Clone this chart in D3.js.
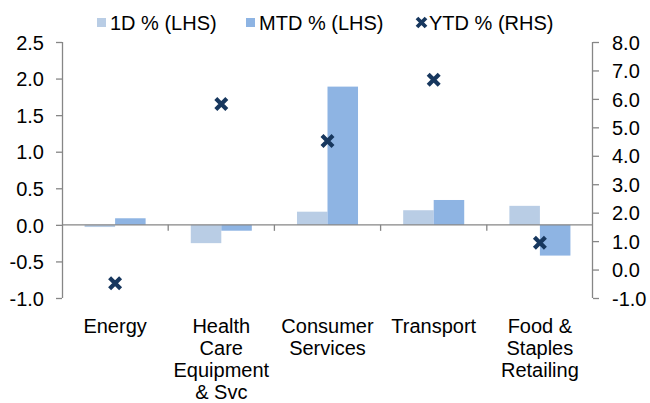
<!DOCTYPE html>
<html>
<head>
<meta charset="utf-8">
<script src="https://cdn.jsdelivr.net/npm/d3@7"></script>
<style>
  body { margin: 0; background: #fff; }
  svg text { font-family: "Liberation Sans", Arial, sans-serif; fill: #000; }
</style>
</head>
<body>
<div id="chart"></div>
<script>
// Sector returns
const categories = ["Energy", "Health Care Equipment & Svc", "Consumer Services", "Transport", "Food & Staples Retailing"];
const oneDay = [-0.03, -0.25, 0.18, 0.20, 0.26];
const monthToDate = [0.09, -0.08, 1.89, 0.34, -0.42];
const yearToDate = [-0.48, 5.82, 4.52, 6.67, 0.94];
const leftTicks = [-1.0, -0.5, 0.0, 0.5, 1.0, 1.5, 2.0, 2.5];
const rightTicks = [-1, 0, 1, 2, 3, 4, 5, 6, 7, 8];
const seriesNames = ["1D % (LHS)", "MTD % (LHS)", "YTD % (RHS)"];

const W = 650, H = 403;
const m = {top: 42, right: 57, bottom: 105, left: 62};
const axisColor = "#868686";
const c1D = "#b9cde5", cMTD = "#8eb4e3", cYTD = "#17375e";
const fmt = d => d.toFixed(1); // plain hyphen minus like the original

const svg = d3.select("#chart").append("svg")
  .attr("width", W).attr("height", H);

const x = d3.scaleBand().domain(categories).range([m.left, W - m.right]).padding(0);
const xs = d3.scaleBand().domain(["1D", "MTD"]).range([0, x.bandwidth()])
  .paddingInner(0).paddingOuter(0.74);
const yL = d3.scaleLinear().domain([-1, 2.5]).range([H - m.bottom, m.top]);
const yR = d3.scaleLinear().domain([-1, 8]).range([H - m.bottom, m.top]);

// bars
const rows = categories.map((c, i) => ({c, v1: oneDay[i], v2: monthToDate[i], v3: yearToDate[i]}));
const g = svg.append("g");
rows.forEach(d => {
  [["1D", d.v1, c1D], ["MTD", d.v2, cMTD]].forEach(([k, v, col]) => {
    g.append("rect")
      .attr("x", x(d.c) + xs(k))
      .attr("width", xs.bandwidth())
      .attr("y", Math.min(yL(v), yL(0)))
      .attr("height", Math.abs(yL(v) - yL(0)))
      .attr("fill", col);
  });
});

// left axis
const axL = svg.append("g")
  .attr("transform", `translate(${m.left},0)`)
  .call(d3.axisLeft(yL).tickValues(leftTicks).tickFormat(fmt).tickSize(6).tickPadding(12));
// right axis
const axR = svg.append("g")
  .attr("transform", `translate(${W - m.right},0)`)
  .call(d3.axisRight(yR).tickValues(rightTicks).tickFormat(fmt).tickSize(6).tickPadding(13));
[axL, axR].forEach(a => {
  a.selectAll("path, line").attr("stroke", axisColor).attr("stroke-width", 1.3);
  a.select(".domain").attr("d", a === axL
    ? `M0.5,${m.top}V${H - m.bottom}` : `M-0.5,${m.top}V${H - m.bottom}`);
  a.selectAll("text").style("font-size", "20px").style("font-family", "Liberation Sans, Arial, sans-serif");
});
axL.selectAll(".tick text").attr("dy", "0.36em");
axR.selectAll(".tick text").attr("dy", "0.36em");

// category axis along zero
const ax = svg.append("g").attr("transform", `translate(0,${yL(0)})`);
ax.append("line").attr("x1", m.left).attr("x2", W - m.right)
  .attr("stroke", axisColor).attr("stroke-width", 1.3);
categories.slice(1).forEach(c => {
  ax.append("line").attr("x1", x(c)).attr("x2", x(c)).attr("y1", 0).attr("y2", 6)
    .attr("stroke", axisColor).attr("stroke-width", 1.3);
});

// category labels with wrapping
function wrapLines(text, width, font) {
  const ctx = document.createElement("canvas").getContext("2d");
  ctx.font = font;
  const words = text.split(" ");
  const lines = [];
  let cur = "";
  words.forEach(w => {
    const t = cur ? cur + " " + w : w;
    if (ctx.measureText(t).width > width && cur) { lines.push(cur); cur = w; }
    else cur = t;
  });
  if (cur) lines.push(cur);
  return lines;
}
categories.forEach(c => {
  const lines = wrapLines(c, 96, "20px 'Liberation Sans'");
  const t = svg.append("text")
    .attr("text-anchor", "middle")
    .style("font-size", "20px");
  lines.forEach((ln, i) => {
    t.append("tspan").attr("x", x(c) + x.bandwidth() / 2).attr("y", 333 + i * 22).text(ln);
  });
});

// YTD markers
const xMark = s => `M${-s},${-s}L${s},${s}M${-s},${s}L${s},${-s}`;
svg.selectAll(".ytd").data(rows).enter().append("path")
  .attr("class", "ytd")
  .attr("transform", d => `translate(${x(d.c) + x.bandwidth() / 2},${yR(d.v3)})`)
  .attr("d", xMark(5.5))
  .attr("stroke", cYTD).attr("stroke-width", 4.2).attr("fill", "none");

// legend
const lg = svg.append("g");
const legendX = [97, 246, 416];
[c1D, cMTD].forEach((col, i) => {
  lg.append("rect").attr("x", legendX[i]).attr("y", 18).attr("width", 9).attr("height", 9).attr("fill", col);
});
lg.append("path").attr("transform", `translate(${legendX[2] + 5.5},22.5)`)
  .attr("d", xMark(4.5)).attr("stroke", cYTD).attr("stroke-width", 3.8);
seriesNames.forEach((s, i) => {
  lg.append("text").attr("x", legendX[i] + 13).attr("y", 30).style("font-size", "20px").text(s);
});
</script>
</body>
</html>
